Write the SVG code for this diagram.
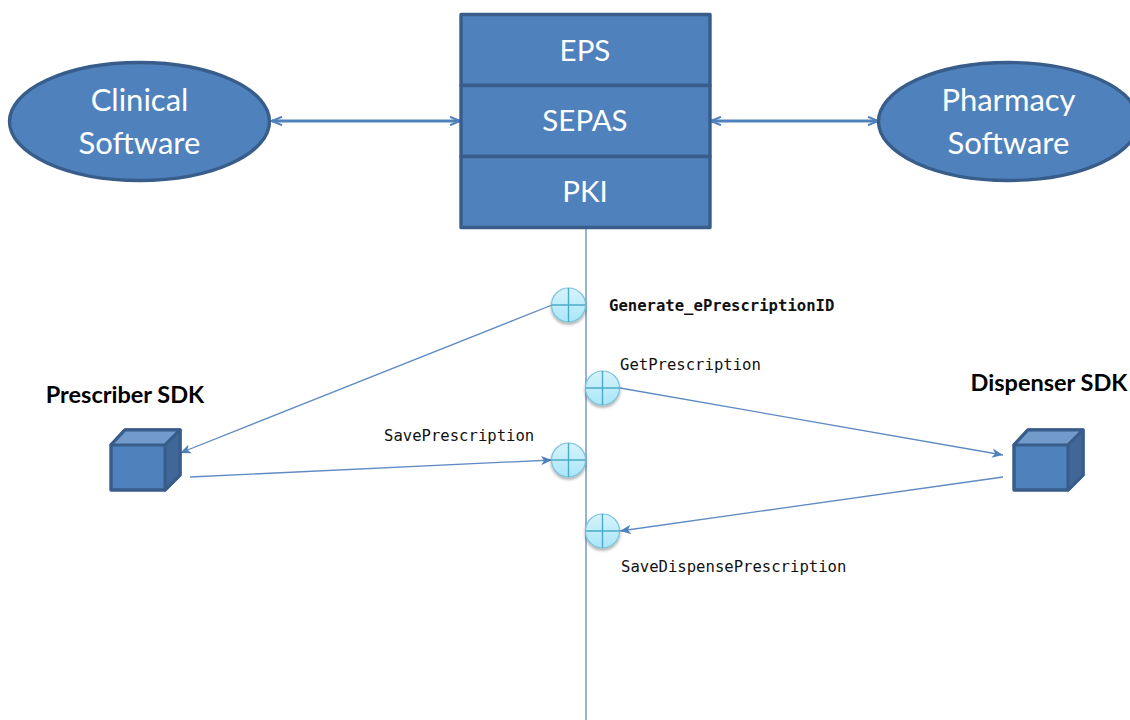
<svg xmlns="http://www.w3.org/2000/svg" width="1130" height="720" viewBox="0 0 1130 720">
<style>
.box{fill:#4f81bd;stroke:#385d8a;stroke-width:3.4;stroke-linejoin:round}
.big{font-family:Lato,"Open Sans",sans-serif;font-size:31px;fill:#fff;text-anchor:middle}
.bar{font-size:29.5px}
.sdk{font-family:Lato,"Open Sans",sans-serif;font-size:23.5px;font-weight:bold;fill:#000;text-anchor:middle}
.mono{font-family:"DejaVu Sans Mono","Liberation Mono",monospace;font-size:15.6px;fill:#111}
.thin{stroke:#5f8ac3;stroke-width:1.3;fill:none}
.thick{stroke:#4f81bd;stroke-width:3;fill:none}
.cross{stroke:#4bacc6;stroke-width:1.4;fill:none}
.ball{fill:url(#ballFill);stroke:#7cc4dc;stroke-width:1.2;filter:url(#shadow)}
.top{fill:#729aca;stroke:#385d8a;stroke-width:3;stroke-linejoin:round}
.side{fill:#3f6797;stroke:#385d8a;stroke-width:3;stroke-linejoin:round}
</style>
<defs>
<linearGradient id="ballFill" x1="0" y1="0" x2="0" y2="1"><stop offset="0" stop-color="#d6f3fb"/><stop offset="1" stop-color="#a9e6fa"/></linearGradient>
<filter id="shadow" x="-30%" y="-30%" width="160%" height="170%"><feDropShadow dx="0" dy="2" stdDeviation="1.5" flood-color="#000" flood-opacity="0.35"/></filter>
<marker id="a" viewBox="0 0 12 10" refX="11" refY="5" markerWidth="12" markerHeight="10" orient="auto-start-reverse" markerUnits="userSpaceOnUse"><path d="M1 0.8L11 5L1 9.2" fill="none" stroke="#4f81bd" stroke-width="2"/></marker>
<marker id="b" viewBox="0 0 12 10" refX="11" refY="5" markerWidth="12" markerHeight="10" orient="auto-start-reverse" markerUnits="userSpaceOnUse"><path d="M0 0.3L11 5L0 9.700L3 5Z" fill="#4f81bd"/></marker>
</defs>
<rect width="1130" height="720" fill="#fff"/>
<g id="connectors">
<line class="thin" x1="586" y1="228" x2="586" y2="720"/>
<line class="thick" x1="272" y1="121" x2="460" y2="121" marker-start="url(#a)" marker-end="url(#a)"/>
<line class="thick" x1="711" y1="121" x2="878" y2="121" marker-start="url(#a)" marker-end="url(#a)"/>
<line class="thin" x1="552" y1="305" x2="180" y2="453" marker-end="url(#b)"/>
<line class="thin" x1="190" y1="477" x2="552" y2="460" marker-end="url(#b)"/>
<line class="thin" x1="620" y1="388" x2="1003" y2="455" marker-end="url(#b)"/>
<line class="thin" x1="1003" y1="477" x2="620" y2="531" marker-end="url(#b)"/>
</g>
<g id="clinical-software">
<ellipse class="box" cx="139.500" cy="121.500" rx="130" ry="59"/>
<text class="big" x="139.500" y="111">Clinical</text>
<text class="big" x="139.500" y="154">Software</text>
</g>
<g id="pharmacy-software">
<ellipse class="box" cx="1008.500" cy="121.500" rx="130" ry="59"/>
<text class="big" x="1008.500" y="111">Pharmacy</text>
<text class="big" x="1008.500" y="154">Software</text>
</g>
<g id="eps">
<rect class="box" x="461" y="14.500" width="249" height="71"/>
<text class="big bar" x="585" y="61">EPS</text>
</g>
<g id="sepas">
<rect class="box" x="461" y="85.500" width="249" height="71"/>
<text class="big bar" x="585" y="131">SEPAS</text>
</g>
<g id="pki">
<rect class="box" x="461" y="156.500" width="249" height="71"/>
<text class="big bar" x="585" y="202">PKI</text>
</g>
<g id="prescriber-sdk">
<text class="sdk" x="125" y="403">Prescriber SDK</text>
<path class="box" d="M111 445L125 430H180V475L165 490H111Z"/>
<path class="top" d="M111 445L125 430H180L165 445Z"/>
<path class="side" d="M165 445L180 430V475L165 490Z"/>
</g>
<g id="dispenser-sdk">
<text class="sdk" x="1049" y="391">Dispenser SDK</text>
<path class="box" d="M1014 445L1028 430H1083V475L1068 490H1014Z"/>
<path class="top" d="M1014 445L1028 430H1083L1068 445Z"/>
<path class="side" d="M1068 445L1083 430V475L1068 490Z"/>
</g>
<g id="generate-eprescriptionid">
<circle class="ball" cx="568.500" cy="305" r="17"/>
<path class="cross" d="M551.500 305H585.500M568.500 288V322"/>
<text class="mono" x="609" y="311" style="font-weight:bold">Generate_ePrescriptionID</text>
</g>
<g id="getprescription">
<circle class="ball" cx="602.500" cy="388" r="17"/>
<path class="cross" d="M585.500 388H619.500M602.500 371V405"/>
<text class="mono" x="620" y="370">GetPrescription</text>
</g>
<g id="saveprescription">
<circle class="ball" cx="568.500" cy="460" r="17"/>
<path class="cross" d="M551.500 460H585.500M568.500 443V477"/>
<text class="mono" x="384" y="441">SavePrescription</text>
</g>
<g id="savedispenseprescription">
<circle class="ball" cx="602.500" cy="531" r="17"/>
<path class="cross" d="M585.500 531H619.500M602.500 514V548"/>
<text class="mono" x="621" y="572">SaveDispensePrescription</text>
</g>
</svg>
